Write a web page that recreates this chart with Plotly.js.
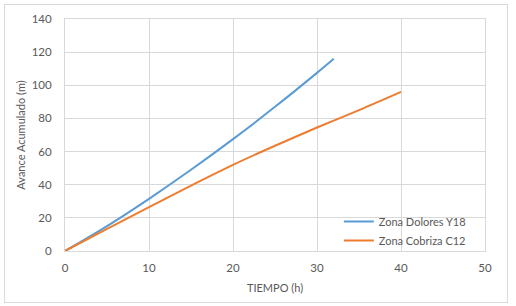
<!DOCTYPE html>
<html>
<head>
<meta charset="utf-8">
<script src="https://cdn.plot.ly/plotly-3.0.1.min.js"></script>
<style>
html,body{margin:0;padding:0;background:#fff;}
#wrap{position:relative;width:516px;height:306px;}
#chart{position:absolute;left:0;top:0;width:516px;height:306px;}
#frame{position:absolute;left:4px;top:4px;width:502px;height:297px;border:1px solid #d9d9d9;pointer-events:none;}
</style>
</head>
<body>
<div id="wrap"><div id="chart"></div><div id="frame"></div></div>
<script>
// Data
const seriesNames = ["Zona Dolores Y18", "Zona Cobriza C12"];
const doloresTime = [0, 5, 10, 15, 20, 25, 30, 32];
const doloresAdvance = [0, 15, 31.5, 49, 67.5, 87, 107.5, 116];
const cobrizaTime = [0, 5, 10, 15, 20, 25, 30, 35, 40];
const cobrizaAdvance = [0, 13.3, 26.5, 39.5, 52, 63.5, 74.5, 85, 96];
const xTitle = "TIEMPO (h)";
const yTitle = "Avance Acumulado (m)";

const fontFamily = "Lato, 'Liberation Sans', sans-serif";
const grey = "#595959";

const traces = [
  {x: doloresTime, y: doloresAdvance, name: seriesNames[0], type: "scatter", mode: "lines",
   line: {color: "#5b9bd5", width: 2, shape: "spline", smoothing: 1}},
  {x: cobrizaTime, y: cobrizaAdvance, name: seriesNames[1], type: "scatter", mode: "lines",
   line: {color: "#ed7d31", width: 2, shape: "spline", smoothing: 1}}
];

const layout = {
  width: 516, height: 306,
  margin: {l: 65, r: 31, t: 19, b: 55, pad: 0},
  paper_bgcolor: "#fff", plot_bgcolor: "#fff",
  font: {family: fontFamily, size: 11, color: grey},
  showlegend: true,
  legend: {x: 0.652, y: 0.19, xanchor: "left", yanchor: "top",
           bgcolor: "rgba(255,255,255,0)", font: {family: fontFamily, size: 11, color: grey},
           tracegroupgap: 0, itemwidth: 30},
  xaxis: {range: [0, 50], dtick: 10, tick0: 0, showgrid: true, gridcolor: "#d9d9d9", gridwidth: 1,
          zeroline: false, showline: true, linecolor: "#d9d9d9", mirror: true, ticks: "",
          ticklabelstandoff: 6, tickfont: {family: fontFamily, size: 11.5, color: grey},
          title: {text: xTitle, font: {family: fontFamily, size: 11, color: grey}, standoff: 11},
          fixedrange: true},
  yaxis: {range: [0, 140], dtick: 20, tick0: 0, showgrid: true, gridcolor: "#d9d9d9", gridwidth: 1,
          zeroline: false, showline: true, linecolor: "#d9d9d9", mirror: true, ticks: "",
          ticklabelstandoff: 10, tickfont: {family: fontFamily, size: 11.5, color: grey},
          title: {text: yTitle, font: {family: fontFamily, size: 11, color: grey}, standoff: 3},
          fixedrange: true}
};

Plotly.newPlot("chart", traces, layout, {displayModeBar: false, staticPlot: true});
</script>
</body>
</html>
